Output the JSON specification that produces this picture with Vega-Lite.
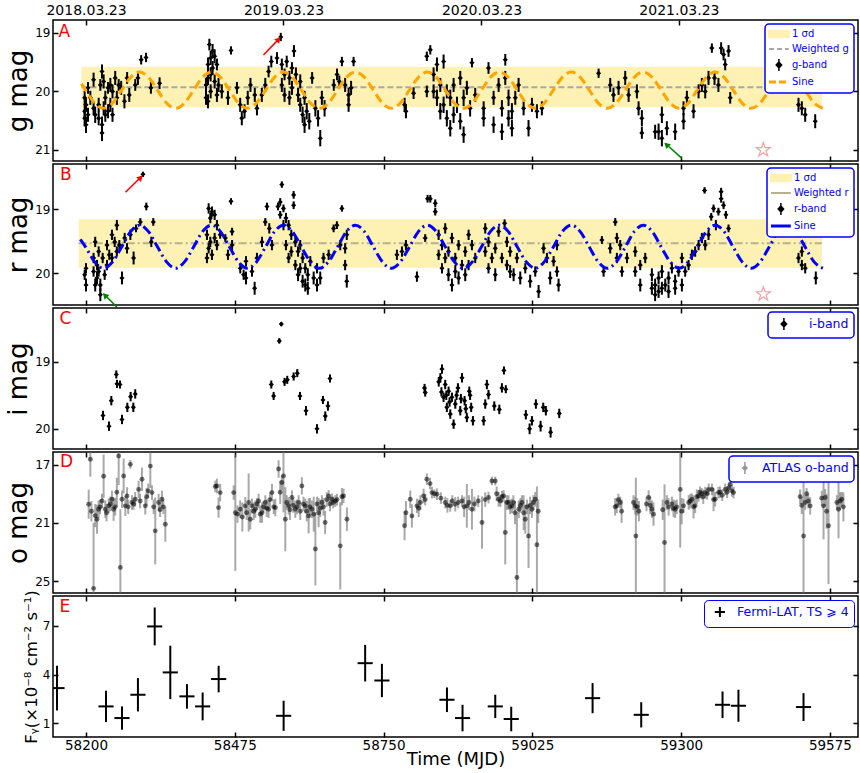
{
"$schema": "https://vega.github.io/schema/vega-lite/v6.json",
"padding": {"top": 2, "left": 4, "right": 1, "bottom": 0},
"spacing": 3,
"bounds": "flush",
"config": {
 "font": "DejaVu Sans",
 "view": {"stroke": "black", "strokeWidth": 1.5},
 "axis": {"domain": false, "grid": false, "tickColor": "black", "tickWidth": 1.5, "tickSize": -5, "labelColor": "black", "titleColor": "black", "titleFontWeight": "normal", "labelFlush": false, "format": "d"}
},
"resolve": {"scale": {"color": "independent", "x": "independent", "y": "independent"}, "legend": {"color": "independent"}},
"datasets": {
"g": [
{"t":58197.5,"m":20.11,"e":0.12},{"t":58197.5,"m":20.34,"e":0.12},{"t":58197.5,"m":20.46,"e":0.14},{"t":58200,"m":20.23,"e":0.12},{"t":58200,"m":20.57,"e":0.14},{"t":58203.7,"m":19.94,"e":0.1},{"t":58203.7,"m":20.4,"e":0.12},{"t":58208,"m":20.11,"e":0.12},{"t":58214,"m":19.8,"e":0.12},{"t":58214,"m":20.29,"e":0.12},{"t":58217,"m":20.4,"e":0.14},{"t":58223.4,"m":20.23,"e":0.12},{"t":58223.4,"m":20.46,"e":0.12},{"t":58226.5,"m":19.89,"e":0.1},{"t":58229.6,"m":19.66,"e":0.12},{"t":58229.6,"m":20.57,"e":0.14},{"t":58229.6,"m":20.71,"e":0.14},{"t":58232.6,"m":19.83,"e":0.12},{"t":58232.6,"m":20.29,"e":0.12},{"t":58235.7,"m":20.11,"e":0.12},{"t":58235.7,"m":20.4,"e":0.12},{"t":58240.7,"m":19.94,"e":0.1},{"t":58240.7,"m":20.34,"e":0.12},{"t":58245,"m":19.89,"e":0.12},{"t":58245,"m":20.23,"e":0.12},{"t":58249,"m":20.0,"e":0.12},{"t":58249,"m":20.4,"e":0.12},{"t":58254,"m":19.77,"e":0.12},{"t":58257,"m":20.11,"e":0.12},{"t":58260.4,"m":19.89,"e":0.1},{"t":58265,"m":19.94,"e":0.12},{"t":58271,"m":20.17,"e":0.12},{"t":58276,"m":19.77,"e":0.1},{"t":58280,"m":20.06,"e":0.12},{"t":58291,"m":19.89,"e":0.1},{"t":58296,"m":19.77,"e":0.12},{"t":58302,"m":19.46,"e":0.08},{"t":58311,"m":19.42,"e":0.08},{"t":58320,"m":19.94,"e":0.1},{"t":58336,"m":19.86,"e":0.1},
{"t":58421.8,"m":19.89,"e":0.12},{"t":58421.8,"m":20.11,"e":0.12},{"t":58425.5,"m":19.54,"e":0.12},{"t":58425.5,"m":19.77,"e":0.12},{"t":58425.5,"m":20.17,"e":0.12},{"t":58428,"m":19.2,"e":0.1},{"t":58430.4,"m":19.43,"e":0.12},{"t":58430.4,"m":19.71,"e":0.12},{"t":58430.4,"m":20.0,"e":0.12},{"t":58434,"m":19.31,"e":0.12},{"t":58434,"m":19.6,"e":0.12},{"t":58437.8,"m":19.4,"e":0.12},{"t":58437.8,"m":19.83,"e":0.12},{"t":58442,"m":19.54,"e":0.1},{"t":58442,"m":20.06,"e":0.12},{"t":58445,"m":19.89,"e":0.12},{"t":58451,"m":20.0,"e":0.12},{"t":58462.4,"m":20.11,"e":0.12},{"t":58468,"m":19.3,"e":0.07},{"t":58479,"m":19.94,"e":0.1},{"t":58485,"m":20.23,"e":0.12},{"t":58488,"m":20.46,"e":0.12},{"t":58493,"m":20.34,"e":0.12},{"t":58499,"m":20.11,"e":0.12},{"t":58504,"m":19.89,"e":0.12},{"t":58512,"m":20.06,"e":0.12},{"t":58516,"m":20.29,"e":0.12},{"t":58525,"m":20.06,"e":0.12},{"t":58531.4,"m":19.89,"e":0.12},{"t":58537.5,"m":19.66,"e":0.1},{"t":58542.5,"m":19.49,"e":0.1},{"t":58553,"m":19.43,"e":0.1},{"t":58560,"m":19.07,"e":0.07},{"t":58562,"m":19.54,"e":0.1},{"t":58562,"m":19.89,"e":0.12},{"t":58567,"m":19.71,"e":0.1},{"t":58567,"m":20.06,"e":0.12},{"t":58571,"m":19.49,"e":0.1},{"t":58576,"m":19.77,"e":0.12},{"t":58576,"m":20.11,"e":0.12},{"t":58580.7,"m":19.6,"e":0.1},{"t":58580.7,"m":19.94,"e":0.12},{"t":58584.4,"m":19.31,"e":0.1},{"t":58588,"m":19.71,"e":0.12},{"t":58592,"m":20.06,"e":0.12},{"t":58596,"m":20.23,"e":0.12},{"t":58596,"m":19.83,"e":0.12},{"t":58600.4,"m":20.4,"e":0.14},{"t":58604,"m":20.11,"e":0.12},{"t":58604,"m":20.57,"e":0.14},{"t":58608,"m":20.34,"e":0.14},{"t":58612.7,"m":20.51,"e":0.14},{"t":58618,"m":19.77,"e":0.1},{"t":58624,"m":20.29,"e":0.14},{"t":58629,"m":20.46,"e":0.14},{"t":58633,"m":20.8,"e":0.14},{"t":58636,"m":20.11,"e":0.12},{"t":58641,"m":20.29,"e":0.14},{"t":58658,"m":19.89,"e":0.1},{"t":58664,"m":19.71,"e":0.1},{"t":58668.2,"m":19.83,"e":0.1},{"t":58673,"m":19.49,"e":0.08},{"t":58679,"m":19.89,"e":0.12},{"t":58685.4,"m":20.06,"e":0.12},{"t":58685.4,"m":20.23,"e":0.12},{"t":58690,"m":19.94,"e":0.12},{"t":58694.6,"m":19.49,"e":0.08},
{"t":58788.9,"m":20.23,"e":0.12},{"t":58791.4,"m":20.34,"e":0.12},{"t":58805.5,"m":20.03,"e":0.1},{"t":58830,"m":19.4,"e":0.08},{"t":58830,"m":20.0,"e":0.1},
{"t":58836.4,"m":19.29,"e":0.08},{"t":58842.5,"m":19.71,"e":0.12},{"t":58842.5,"m":20.0,"e":0.12},{"t":58848.7,"m":19.54,"e":0.12},{"t":58848.7,"m":20.11,"e":0.14},{"t":58854.9,"m":19.89,"e":0.12},{"t":58854.9,"m":20.34,"e":0.14},{"t":58861,"m":19.49,"e":0.12},{"t":58861,"m":20.23,"e":0.14},{"t":58867,"m":20.0,"e":0.12},{"t":58867,"m":20.46,"e":0.14},{"t":58873.3,"m":20.11,"e":0.14},{"t":58873.3,"m":20.63,"e":0.14},{"t":58879.5,"m":19.89,"e":0.12},{"t":58879.5,"m":20.4,"e":0.14},{"t":58885.7,"m":20.23,"e":0.14},{"t":58891.8,"m":19.77,"e":0.12},{"t":58891.8,"m":20.51,"e":0.14},{"t":58898,"m":20.11,"e":0.14},{"t":58898,"m":20.74,"e":0.14},{"t":58904,"m":19.94,"e":0.12},{"t":58910,"m":20.29,"e":0.14},{"t":58913.4,"m":19.51,"e":0.08},{"t":58919.5,"m":20.06,"e":0.12},{"t":58935,"m":20.29,"e":0.12},{"t":58935,"m":20.46,"e":0.14},{"t":58944,"m":19.6,"e":0.1},{"t":58953.4,"m":20.11,"e":0.12},{"t":58953.4,"m":20.57,"e":0.14},{"t":58962.7,"m":19.89,"e":0.12},{"t":58968.8,"m":20.29,"e":0.14},{"t":58968.8,"m":20.69,"e":0.14},{"t":58975,"m":19.46,"e":0.1},{"t":58975,"m":19.77,"e":0.12},{"t":58981,"m":20.11,"e":0.14},{"t":58981,"m":20.46,"e":0.14},{"t":58987.3,"m":20.34,"e":0.14},{"t":58987.3,"m":20.63,"e":0.14},{"t":58993.5,"m":20.11,"e":0.12},{"t":58999.6,"m":19.89,"e":0.12},{"t":59008.9,"m":20.29,"e":0.12},{"t":59018,"m":20.63,"e":0.14},{"t":59024.3,"m":20.23,"e":0.12},{"t":59033.5,"m":20.34,"e":0.12},{"t":59042.7,"m":20.29,"e":0.12},
{"t":59147.5,"m":19.69,"e":0.08},{"t":59169,"m":19.89,"e":0.12},{"t":59175,"m":20.06,"e":0.12},{"t":59184.4,"m":19.94,"e":0.12},{"t":59196.7,"m":19.77,"e":0.12},{"t":59203,"m":20.06,"e":0.12},{"t":59218.3,"m":20.0,"e":0.12},{"t":59221.4,"m":20.29,"e":0.12},{"t":59227.5,"m":20.46,"e":0.14},{"t":59227.5,"m":20.71,"e":0.1},{"t":59252,"m":20.69,"e":0.12},{"t":59258.4,"m":20.69,"e":0.14},{"t":59264.5,"m":20.8,"e":0.14},{"t":59264.5,"m":20.4,"e":0.14},{"t":59273.7,"m":20.63,"e":0.12},{"t":59289,"m":20.69,"e":0.14},{"t":59304.5,"m":20.51,"e":0.14},{"t":59304.5,"m":20.29,"e":0.12},{"t":59310.7,"m":20.11,"e":0.12},{"t":59323,"m":20.34,"e":0.12},{"t":59332.3,"m":20.0,"e":0.12},{"t":59338.4,"m":19.89,"e":0.12},{"t":59344.6,"m":20.0,"e":0.12},{"t":59350.7,"m":19.77,"e":0.12},{"t":59356.9,"m":19.26,"e":0.08},{"t":59361.8,"m":19.77,"e":0.12},{"t":59369,"m":19.89,"e":0.12},{"t":59374,"m":19.26,"e":0.1},{"t":59378.5,"m":19.37,"e":0.1},{"t":59381.5,"m":19.54,"e":0.1},{"t":59387.7,"m":19.31,"e":0.1},{"t":59390.8,"m":20.11,"e":0.1},{"t":59517,"m":20.23,"e":0.12},{"t":59523.2,"m":20.29,"e":0.12},{"t":59529.4,"m":20.4,"e":0.12},{"t":59547.9,"m":20.51,"e":0.12}
],
"r": [
{"t":58197.5,"m":20.02,"e":0.08},{"t":58200,"m":19.92,"e":0.08},{"t":58200,"m":20.18,"e":0.1},{"t":58214,"m":19.76,"e":0.08},{"t":58214,"m":19.97,"e":0.08},{"t":58217,"m":19.51,"e":0.08},{"t":58217,"m":20.18,"e":0.1},{"t":58220.3,"m":19.87,"e":0.08},{"t":58220.3,"m":20.07,"e":0.1},{"t":58223.4,"m":19.66,"e":0.08},{"t":58223.4,"m":19.97,"e":0.08},{"t":58226.5,"m":20.18,"e":0.1},{"t":58226.5,"m":20.33,"e":0.1},{"t":58230.8,"m":19.76,"e":0.08},{"t":58234.5,"m":20.02,"e":0.08},{"t":58238.8,"m":19.56,"e":0.08},{"t":58238.8,"m":19.87,"e":0.08},{"t":58243,"m":19.71,"e":0.08},{"t":58248,"m":19.4,"e":0.08},{"t":58248,"m":19.76,"e":0.08},{"t":58253,"m":19.51,"e":0.08},{"t":58257,"m":19.25,"e":0.08},{"t":58257,"m":19.66,"e":0.08},{"t":58261.6,"m":19.56,"e":0.08},{"t":58266.5,"m":20.07,"e":0.1},{"t":58271.5,"m":19.45,"e":0.08},{"t":58275.8,"m":19.61,"e":0.08},{"t":58282,"m":19.4,"e":0.08},{"t":58288,"m":19.76,"e":0.1},{"t":58292.4,"m":19.3,"e":0.06},{"t":58300.4,"m":19.2,"e":0.06},{"t":58305.3,"m":18.46,"e":0.04},{"t":58311.5,"m":18.96,"e":0.06},{"t":58320.7,"m":19.51,"e":0.08},{"t":58324.4,"m":19.2,"e":0.06},
{"t":58423.6,"m":19.4,"e":0.08},{"t":58423.6,"m":19.76,"e":0.08},{"t":58426.7,"m":18.99,"e":0.08},{"t":58426.7,"m":19.61,"e":0.08},{"t":58429.8,"m":19.14,"e":0.08},{"t":58429.8,"m":19.51,"e":0.08},{"t":58432.8,"m":19.04,"e":0.08},{"t":58432.8,"m":19.71,"e":0.08},{"t":58437.8,"m":19.09,"e":0.08},{"t":58437.8,"m":19.45,"e":0.08},{"t":58442,"m":19.25,"e":0.08},{"t":58442,"m":19.56,"e":0.08},{"t":58448,"m":19.4,"e":0.06},{"t":58457.5,"m":19.45,"e":0.06},{"t":58462.4,"m":19.71,"e":0.08},{"t":58468,"m":18.88,"e":0.05},{"t":58470,"m":19.35,"e":0.06},{"t":58470,"m":19.56,"e":0.08},{"t":58485.2,"m":19.92,"e":0.08},{"t":58491.4,"m":20.02,"e":0.08},{"t":58495.7,"m":19.81,"e":0.08},{"t":58495.7,"m":20.07,"e":0.1},{"t":58506.8,"m":19.97,"e":0.08},{"t":58511.7,"m":20.23,"e":0.1},{"t":58516,"m":19.76,"e":0.08},{"t":58525.3,"m":19.51,"e":0.08},{"t":58531.4,"m":19.2,"e":0.06},{"t":58534.5,"m":18.96,"e":0.06},{"t":58538.8,"m":19.3,"e":0.08},{"t":58543.7,"m":19.56,"e":0.08},{"t":58554.8,"m":18.96,"e":0.06},{"t":58559,"m":18.89,"e":0.06},{"t":58559,"m":19.09,"e":0.06},{"t":58562,"m":18.62,"e":0.05},{"t":58565,"m":18.99,"e":0.06},{"t":58565,"m":19.25,"e":0.08},{"t":58569.6,"m":19.14,"e":0.08},{"t":58569.6,"m":19.56,"e":0.08},{"t":58574.5,"m":19.25,"e":0.08},{"t":58574.5,"m":19.76,"e":0.08},{"t":58579.5,"m":19.4,"e":0.08},{"t":58579.5,"m":19.66,"e":0.08},{"t":58583.8,"m":18.78,"e":0.06},{"t":58583.8,"m":18.94,"e":0.06},{"t":58587,"m":19.51,"e":0.08},{"t":58587,"m":19.87,"e":0.08},{"t":58592,"m":19.66,"e":0.08},{"t":58592,"m":20.02,"e":0.1},{"t":58596,"m":19.56,"e":0.08},{"t":58596,"m":19.92,"e":0.08},{"t":58600.4,"m":19.76,"e":0.08},{"t":58600.4,"m":20.12,"e":0.1},{"t":58605.3,"m":19.92,"e":0.08},{"t":58605.3,"m":20.18,"e":0.1},{"t":58610,"m":20.02,"e":0.1},{"t":58610,"m":20.23,"e":0.1},{"t":58614.6,"m":19.81,"e":0.08},{"t":58620.8,"m":20.07,"e":0.1},{"t":58627,"m":19.92,"e":0.08},{"t":58627,"m":20.18,"e":0.1},{"t":58633,"m":20.07,"e":0.1},{"t":58639,"m":19.76,"e":0.08},{"t":58648.5,"m":19.71,"e":0.08},{"t":58657.7,"m":19.3,"e":0.06},{"t":58663.8,"m":19.25,"e":0.06},{"t":58670,"m":19.56,"e":0.08},{"t":58673,"m":18.99,"e":0.05},{"t":58679,"m":19.61,"e":0.08},{"t":58679,"m":19.87,"e":0.08},{"t":58682,"m":19.4,"e":0.08},{"t":58682,"m":20.12,"e":0.1},
{"t":58774.7,"m":19.71,"e":0.08},{"t":58784,"m":19.66,"e":0.08},{"t":58791.4,"m":19.56,"e":0.08},{"t":58811.7,"m":20.05,"e":0.08},{"t":58827,"m":19.45,"e":0.06},{"t":58831.4,"m":18.84,"e":0.06},
{"t":58836.4,"m":18.84,"e":0.06},{"t":58845.6,"m":18.91,"e":0.06},{"t":58845.6,"m":19.04,"e":0.06},{"t":58851.8,"m":19.4,"e":0.08},{"t":58851.8,"m":19.71,"e":0.08},{"t":58858,"m":19.56,"e":0.08},{"t":58858,"m":19.92,"e":0.08},{"t":58864,"m":19.3,"e":0.08},{"t":58864,"m":19.76,"e":0.08},{"t":58870,"m":19.66,"e":0.08},{"t":58870,"m":20.02,"e":0.1},{"t":58876.4,"m":19.45,"e":0.08},{"t":58876.4,"m":20.18,"e":0.1},{"t":58882.6,"m":19.76,"e":0.08},{"t":58882.6,"m":19.97,"e":0.1},{"t":58888.7,"m":19.56,"e":0.08},{"t":58888.7,"m":20.07,"e":0.1},{"t":58895,"m":19.87,"e":0.08},{"t":58901,"m":19.66,"e":0.08},{"t":58901,"m":20.02,"e":0.1},{"t":58907.2,"m":19.4,"e":0.08},{"t":58907.2,"m":19.87,"e":0.08},{"t":58913.4,"m":19.56,"e":0.08},{"t":58919.5,"m":19.76,"e":0.08},{"t":58938,"m":19.3,"e":0.08},{"t":58938,"m":19.66,"e":0.08},{"t":58944,"m":19.51,"e":0.08},{"t":58944,"m":19.92,"e":0.08},{"t":58950.3,"m":19.76,"e":0.08},{"t":58956.5,"m":19.61,"e":0.08},{"t":58956.5,"m":20.02,"e":0.1},{"t":58962.7,"m":19.35,"e":0.08},{"t":58968.8,"m":19.76,"e":0.08},{"t":58973.8,"m":19.22,"e":0.06},{"t":58978,"m":19.51,"e":0.08},{"t":58978,"m":19.87,"e":0.08},{"t":58984,"m":19.66,"e":0.08},{"t":58984,"m":19.97,"e":0.1},{"t":58990.4,"m":20.02,"e":0.1},{"t":58996.5,"m":19.76,"e":0.08},{"t":59002.7,"m":20.07,"e":0.1},{"t":59012,"m":19.92,"e":0.08},{"t":59021,"m":20.12,"e":0.1},{"t":59030.4,"m":19.97,"e":0.08},{"t":59036.6,"m":20.28,"e":0.1},{"t":59045.8,"m":19.61,"e":0.08},{"t":59052,"m":19.76,"e":0.08},{"t":59058,"m":20.07,"e":0.1},{"t":59064.3,"m":19.81,"e":0.08},{"t":59070.5,"m":19.56,"e":0.08},{"t":59070.5,"m":19.97,"e":0.08},{"t":59073.5,"m":20.18,"e":0.1},
{"t":59153.6,"m":19.48,"e":0.06},{"t":59156.7,"m":19.97,"e":0.08},{"t":59169,"m":19.61,"e":0.08},{"t":59178.3,"m":19.2,"e":0.06},{"t":59181.3,"m":19.45,"e":0.08},{"t":59181.3,"m":19.76,"e":0.08},{"t":59187.5,"m":19.56,"e":0.08},{"t":59190.6,"m":19.97,"e":0.08},{"t":59200,"m":19.76,"e":0.08},{"t":59215.2,"m":19.66,"e":0.08},{"t":59215.2,"m":19.97,"e":0.08},{"t":59224.5,"m":19.87,"e":0.08},{"t":59224.5,"m":20.18,"e":0.1},{"t":59233.7,"m":19.76,"e":0.08},{"t":59246,"m":20.02,"e":0.1},{"t":59246,"m":20.23,"e":0.1},{"t":59252,"m":20.18,"e":0.1},{"t":59252,"m":20.33,"e":0.1},{"t":59258.4,"m":20.07,"e":0.1},{"t":59258.4,"m":20.28,"e":0.1},{"t":59264.5,"m":19.97,"e":0.1},{"t":59264.5,"m":20.23,"e":0.1},{"t":59270.7,"m":20.18,"e":0.1},{"t":59276.8,"m":20.07,"e":0.1},{"t":59276.8,"m":20.28,"e":0.1},{"t":59283,"m":19.92,"e":0.08},{"t":59289,"m":20.12,"e":0.1},{"t":59289,"m":20.23,"e":0.1},{"t":59295.3,"m":19.97,"e":0.08},{"t":59301.5,"m":19.76,"e":0.08},{"t":59301.5,"m":20.18,"e":0.1},{"t":59307.6,"m":19.97,"e":0.08},{"t":59313.8,"m":19.87,"e":0.08},{"t":59320,"m":19.71,"e":0.08},{"t":59326,"m":19.66,"e":0.08},{"t":59332.3,"m":19.56,"e":0.08},{"t":59338.4,"m":19.45,"e":0.08},{"t":59343.4,"m":18.71,"e":0.05},{"t":59344.6,"m":19.56,"e":0.08},{"t":59350.7,"m":19.4,"e":0.08},{"t":59355.7,"m":19.12,"e":0.06},{"t":59360,"m":18.99,"e":0.06},{"t":59364.3,"m":19.25,"e":0.08},{"t":59369,"m":19.04,"e":0.06},{"t":59374,"m":18.73,"e":0.06},{"t":59374,"m":18.84,"e":0.06},{"t":59378.5,"m":18.94,"e":0.06},{"t":59382.8,"m":19.09,"e":0.06},{"t":59387.7,"m":19.3,"e":0.06},{"t":59517,"m":19.76,"e":0.08},{"t":59523.2,"m":19.66,"e":0.08},{"t":59523.2,"m":19.87,"e":0.08},{"t":59529.4,"m":19.92,"e":0.08},{"t":59549,"m":20.07,"e":0.1}
],
"i": [
{"t":58231.4,"m":19.8,"e":0.07},{"t":58242.5,"m":19.96,"e":0.07},{"t":58246.8,"m":19.58,"e":0.07},{"t":58256,"m":19.19,"e":0.06},{"t":58257.3,"m":19.33,"e":0.06},{"t":58262.8,"m":19.34,"e":0.06},{"t":58266.5,"m":19.86,"e":0.07},{"t":58276.4,"m":19.68,"e":0.07},{"t":58282.5,"m":19.52,"e":0.07},{"t":58287.5,"m":19.68,"e":0.07},{"t":58291,"m":19.48,"e":0.07},
{"t":58542.5,"m":19.34,"e":0.06},{"t":58546.8,"m":19.51,"e":0.06},{"t":58557.3,"m":18.69,"e":0.04},{"t":58561,"m":18.44,"e":0.03},{"t":58567,"m":19.3,"e":0.06},{"t":58572,"m":19.27,"e":0.06},{"t":58583.8,"m":19.22,"e":0.06},{"t":58590.5,"m":19.17,"e":0.06},{"t":58595.5,"m":19.51,"e":0.06},{"t":58606.6,"m":19.73,"e":0.07},{"t":58627,"m":20.0,"e":0.07},{"t":58638,"m":19.57,"e":0.06},{"t":58642.3,"m":19.81,"e":0.07},{"t":58647.2,"m":19.66,"e":0.07},{"t":58651,"m":19.25,"e":0.06},{"t":58825.8,"m":19.39,"e":0.06},{"t":58827,"m":19.46,"e":0.06},
{"t":58852,"m":19.3,"e":0.07},{"t":58855,"m":19.24,"e":0.07},{"t":58857,"m":19.45,"e":0.07},{"t":58858,"m":19.11,"e":0.07},{"t":58861,"m":19.53,"e":0.07},{"t":58864,"m":19.34,"e":0.07},{"t":58866,"m":19.5,"e":0.07},{"t":58867,"m":19.68,"e":0.07},{"t":58870.3,"m":19.44,"e":0.07},{"t":58872,"m":19.6,"e":0.07},{"t":58873.3,"m":19.78,"e":0.07},{"t":58876.4,"m":19.53,"e":0.07},{"t":58879.5,"m":19.93,"e":0.07},{"t":58882.6,"m":19.63,"e":0.07},{"t":58885,"m":19.5,"e":0.07},{"t":58887.5,"m":19.39,"e":0.07},{"t":58891.8,"m":19.73,"e":0.07},{"t":58893,"m":19.55,"e":0.07},{"t":58895,"m":19.24,"e":0.07},{"t":58899.8,"m":19.58,"e":0.07},{"t":58902,"m":19.7,"e":0.07},{"t":58904,"m":19.83,"e":0.07},{"t":58908.5,"m":19.44,"e":0.07},{"t":58910,"m":19.5,"e":0.07},{"t":58912,"m":19.68,"e":0.07},{"t":58915.2,"m":19.88,"e":0.07},{"t":58935,"m":19.88,"e":0.07},{"t":58938,"m":19.63,"e":0.07},{"t":58941,"m":19.34,"e":0.07},{"t":58944,"m":19.49,"e":0.07},{"t":58954.7,"m":19.66,"e":0.07},{"t":58964,"m":19.71,"e":0.07},{"t":58968.8,"m":19.39,"e":0.07},{"t":58972.5,"m":19.13,"e":0.06},{"t":58976,"m":19.41,"e":0.06},{"t":59013,"m":19.79,"e":0.07},{"t":59020,"m":20.0,"e":0.08},{"t":59024.3,"m":19.88,"e":0.07},{"t":59031.6,"m":19.63,"e":0.07},{"t":59040.3,"m":19.96,"e":0.08},{"t":59045.2,"m":19.68,"e":0.07},{"t":59050,"m":19.73,"e":0.07},{"t":59058.8,"m":20.05,"e":0.08},{"t":59074.8,"m":19.77,"e":0.07}
],
"o": [
{"t":58205,"m":19.72,"e":1.0},{"t":58208,"m":16.63,"e":1.2},{"t":58210,"m":20.2,"e":0.7},{"t":58214,"m":25.5,"e":4.5},{"t":58217,"m":20.5,"e":0.8},{"t":58220.3,"m":20.75,"e":1.0},{"t":58223.4,"m":20.06,"e":0.6},{"t":58226,"m":19.9,"e":0.5},{"t":58229.6,"m":19.5,"e":0.5},{"t":58232.6,"m":17.8,"e":1.5},{"t":58235.7,"m":20.06,"e":0.6},{"t":58238,"m":20.3,"e":0.6},{"t":58242,"m":19.83,"e":0.5},{"t":58245,"m":19.7,"e":0.5},{"t":58248,"m":19.38,"e":0.6},{"t":58251,"m":20.06,"e":0.8},{"t":58254,"m":19.9,"e":0.6},{"t":58257,"m":18.9,"e":1.0},{"t":58260.4,"m":16.4,"e":2.0},{"t":58263.5,"m":24.06,"e":4.0},{"t":58266.5,"m":19.38,"e":0.6},{"t":58269.6,"m":17.78,"e":1.2},{"t":58272.7,"m":19.83,"e":0.7},{"t":58275.8,"m":19.15,"e":0.6},{"t":58278,"m":19.9,"e":0.5},{"t":58282,"m":16.98,"e":0.3},{"t":58285,"m":19.6,"e":0.5},{"t":58288,"m":19.7,"e":0.4},{"t":58291,"m":19.38,"e":0.5},{"t":58297.3,"m":18.7,"e":0.6},{"t":58300,"m":19.5,"e":0.5},{"t":58303.5,"m":18.0,"e":0.8},{"t":58309.6,"m":19.83,"e":0.6},{"t":58312,"m":19.2,"e":0.6},{"t":58315,"m":18.8,"e":0.5},{"t":58318.9,"m":17.1,"e":1.5},{"t":58322,"m":18.92,"e":0.5},{"t":58325,"m":19.9,"e":0.5},{"t":58328,"m":21.55,"e":2.3},{"t":58334.3,"m":19.6,"e":0.6},{"t":58337,"m":20.1,"e":0.5},{"t":58340.4,"m":19.38,"e":0.6},{"t":58343,"m":19.9,"e":0.5},{"t":58346.6,"m":21.1,"e":1.2},
{"t":58439,"m":18.5,"e":0.4},{"t":58442,"m":18.46,"e":0.5},{"t":58445,"m":19.95,"e":0.7},{"t":58448,"m":18.92,"e":0.6},
{"t":58473,"m":18.92,"e":0.5},{"t":58476,"m":20.3,"e":4.0},{"t":58480,"m":20.4,"e":0.6},{"t":58485,"m":20.06,"e":0.6},{"t":58489,"m":20.6,"e":1.0},{"t":58494.5,"m":19.83,"e":0.6},{"t":58497,"m":20.3,"e":0.5},{"t":58500.6,"m":19.6,"e":2.0},{"t":58503.7,"m":20.75,"e":0.7},{"t":58506.8,"m":19.83,"e":0.5},{"t":58510,"m":20.2,"e":0.6},{"t":58513,"m":20.06,"e":0.6},{"t":58516,"m":19.7,"e":0.4},{"t":58519,"m":19.5,"e":0.5},{"t":58522,"m":20.4,"e":0.6},{"t":58525.3,"m":20.3,"e":0.7},{"t":58528,"m":19.9,"e":0.4},{"t":58531.4,"m":19.6,"e":0.5},{"t":58534,"m":20.0,"e":0.6},{"t":58537.5,"m":20.06,"e":0.6},{"t":58540,"m":19.4,"e":0.5},{"t":58543.7,"m":18.92,"e":0.6},{"t":58547,"m":19.9,"e":0.5},{"t":58550,"m":19.95,"e":0.6},{"t":58556,"m":17.3,"e":0.6},{"t":58559,"m":18.9,"e":0.8},{"t":58562,"m":18.23,"e":0.5},{"t":58565,"m":17.78,"e":2.5},{"t":58568.4,"m":20.75,"e":2.2},{"t":58571,"m":19.6,"e":0.5},{"t":58574.5,"m":19.83,"e":0.6},{"t":58577,"m":20.1,"e":0.7},{"t":58580.7,"m":19.26,"e":0.5},{"t":58583,"m":19.8,"e":0.5},{"t":58586.8,"m":20.06,"e":0.6},{"t":58590,"m":19.9,"e":0.5},{"t":58593,"m":19.6,"e":0.5},{"t":58596,"m":20.2,"e":0.6},{"t":58599,"m":18.46,"e":0.6},{"t":58602,"m":19.7,"e":0.5},{"t":58605.3,"m":19.83,"e":0.5},{"t":58608,"m":20.2,"e":0.7},{"t":58611.5,"m":20.52,"e":1.2},{"t":58614,"m":19.9,"e":0.6},{"t":58617.6,"m":20.06,"e":0.6},{"t":58621,"m":20.4,"e":1.2},{"t":58624,"m":22.8,"e":2.5},{"t":58627,"m":19.7,"e":0.5},{"t":58630,"m":20.3,"e":1.0},{"t":58633,"m":20.0,"e":0.6},{"t":58636,"m":19.6,"e":0.5},{"t":58639,"m":19.9,"e":0.6},{"t":58642,"m":20.98,"e":0.8},{"t":58645,"m":19.4,"e":0.5},{"t":58648.5,"m":19.15,"e":0.4},{"t":58651,"m":19.7,"e":0.5},{"t":58654.6,"m":19.38,"e":0.4},{"t":58657,"m":19.6,"e":0.4},{"t":58660.8,"m":19.5,"e":0.4},{"t":58664,"m":19.4,"e":0.4},{"t":58670,"m":22.58,"e":3.0},{"t":58673,"m":19.2,"e":0.6},{"t":58676,"m":19.15,"e":0.5},{"t":58682.3,"m":20.75,"e":0.8},
{"t":58788.9,"m":21.2,"e":1.0},{"t":58791.4,"m":20.3,"e":0.8},{"t":58799.4,"m":19.38,"e":0.6},{"t":58802.4,"m":20.52,"e":0.8},{"t":58811.7,"m":19.83,"e":0.5},{"t":58815,"m":20.0,"e":0.6},{"t":58818,"m":19.6,"e":0.5},{"t":58824,"m":19.15,"e":0.5},{"t":58827,"m":19.4,"e":0.4},{"t":58830,"m":18.0,"e":0.4},
{"t":58836,"m":18.3,"e":0.4},{"t":58839.5,"m":18.92,"e":0.4},{"t":58844,"m":19.0,"e":0.3},{"t":58848.7,"m":19.03,"e":0.4},{"t":58856,"m":19.3,"e":0.4},{"t":58864,"m":19.6,"e":0.4},{"t":58868,"m":19.8,"e":0.5},{"t":58873.3,"m":19.83,"e":0.4},{"t":58877,"m":19.5,"e":0.4},{"t":58882.6,"m":19.72,"e":0.5},{"t":58888,"m":19.6,"e":0.4},{"t":58895,"m":19.5,"e":0.4},{"t":58899,"m":19.9,"e":0.7},{"t":58904,"m":19.83,"e":1.5},{"t":58908,"m":19.6,"e":0.5},{"t":58913.4,"m":20.06,"e":1.4},{"t":58918,"m":19.7,"e":0.5},{"t":58925,"m":19.5,"e":0.4},{"t":58932,"m":20.98,"e":1.8},{"t":58938,"m":19.4,"e":0.5},{"t":58944,"m":19.26,"e":0.4},{"t":58950.3,"m":18.12,"e":0.3},{"t":58956.5,"m":18.12,"e":0.3},{"t":58959,"m":19.0,"e":0.5},{"t":58962.7,"m":19.38,"e":0.5},{"t":58966,"m":19.5,"e":0.4},{"t":58969,"m":19.2,"e":0.4},{"t":58972,"m":19.15,"e":0.4},{"t":58975,"m":21.66,"e":2.2},{"t":58978,"m":19.6,"e":0.5},{"t":58981,"m":19.6,"e":0.5},{"t":58984,"m":19.9,"e":0.5},{"t":58987.3,"m":19.83,"e":0.5},{"t":58990,"m":19.6,"e":0.5},{"t":58993,"m":20.3,"e":0.8},{"t":58996.5,"m":24.75,"e":4.5},{"t":59000,"m":20.06,"e":0.6},{"t":59003,"m":19.8,"e":0.5},{"t":59005.8,"m":19.6,"e":0.5},{"t":59009,"m":20.3,"e":1.2},{"t":59012,"m":20.75,"e":1.0},{"t":59015,"m":19.9,"e":0.5},{"t":59018,"m":21.9,"e":2.2},{"t":59021,"m":19.8,"e":0.6},{"t":59024.3,"m":20.06,"e":0.6},{"t":59027,"m":19.6,"e":0.5},{"t":59030.4,"m":19.38,"e":0.5},{"t":59033.5,"m":22.5,"e":4.0},{"t":59036,"m":20.2,"e":0.8},
{"t":59178,"m":19.9,"e":0.6},{"t":59181.3,"m":19.83,"e":0.5},{"t":59184,"m":19.4,"e":0.4},{"t":59187.5,"m":19.6,"e":0.4},{"t":59190,"m":20.2,"e":0.8},{"t":59212,"m":19.6,"e":0.5},{"t":59215.2,"m":19.83,"e":0.6},{"t":59216.4,"m":21.9,"e":4.0},{"t":59219,"m":19.9,"e":0.6},{"t":59222,"m":20.2,"e":0.7},{"t":59236,"m":19.7,"e":0.5},{"t":59240,"m":19.26,"e":0.5},{"t":59243,"m":19.8,"e":0.6},{"t":59246,"m":20.06,"e":0.6},{"t":59249,"m":20.4,"e":0.8},{"t":59266,"m":20.1,"e":0.7},{"t":59269.4,"m":22.35,"e":4.0},{"t":59273.7,"m":19.6,"e":0.5},{"t":59277,"m":19.9,"e":0.6},{"t":59283,"m":19.7,"e":0.5},{"t":59286,"m":20.0,"e":0.6},{"t":59289,"m":20.06,"e":0.6},{"t":59292,"m":19.9,"e":0.5},{"t":59298.4,"m":18.7,"e":4.0},{"t":59301,"m":20.2,"e":0.9},{"t":59304.5,"m":19.83,"e":0.5},{"t":59314,"m":19.6,"e":0.5},{"t":59317,"m":19.5,"e":0.5},{"t":59320,"m":19.38,"e":0.4},{"t":59323,"m":19.9,"e":0.8},{"t":59326,"m":19.83,"e":0.5},{"t":59329,"m":19.2,"e":0.5},{"t":59332.3,"m":19.15,"e":0.4},{"t":59335,"m":18.9,"e":0.4},{"t":59338,"m":19.0,"e":0.4},{"t":59341,"m":19.2,"e":0.5},{"t":59344.6,"m":18.92,"e":0.4},{"t":59348,"m":19.0,"e":0.4},{"t":59351,"m":18.7,"e":0.4},{"t":59357,"m":18.7,"e":0.4},{"t":59360,"m":19.4,"e":0.8},{"t":59363,"m":19.38,"e":0.5},{"t":59369,"m":18.92,"e":0.4},{"t":59372,"m":18.9,"e":0.4},{"t":59376,"m":19.1,"e":0.4},{"t":59381.5,"m":18.7,"e":0.4},{"t":59385,"m":18.9,"e":0.4},{"t":59388,"m":18.6,"e":0.3},{"t":59390.8,"m":18.35,"e":0.3},{"t":59394,"m":18.8,"e":0.4},{"t":59397,"m":18.92,"e":0.4},
{"t":59520,"m":19.2,"e":0.5},{"t":59523,"m":19.8,"e":0.6},{"t":59526.3,"m":21.9,"e":4.0},{"t":59529.4,"m":19.6,"e":0.5},{"t":59532,"m":19.0,"e":0.4},{"t":59535,"m":19.5,"e":0.5},{"t":59538.6,"m":19.83,"e":0.6},{"t":59560,"m":19.3,"e":0.5},{"t":59563.3,"m":19.83,"e":2.3},{"t":59566.3,"m":19.26,"e":0.6},{"t":59569,"m":20.2,"e":1.2},{"t":59572.5,"m":21.2,"e":4.0},{"t":59588,"m":19.6,"e":0.5},{"t":59591,"m":20.06,"e":2.0},{"t":59594,"m":19.5,"e":0.6},{"t":59597,"m":19.38,"e":0.5},{"t":59600,"m":19.9,"e":1.0}
],
"f": [
{"t":58146.4,"f":3.16,"fe":1.38,"te":14},{"t":58237,"f":2.03,"fe":0.97,"te":14},{"t":58266.5,"f":1.31,"fe":0.72,"te":14},{"t":58296,"f":2.75,"fe":1.03,"te":14},{"t":58327,"f":6.97,"fe":1.17,"te":14},{"t":58355.8,"f":4.13,"fe":1.65,"te":14},{"t":58386.6,"f":2.65,"fe":0.76,"te":14},{"t":58415.6,"f":2.03,"fe":0.86,"te":14},{"t":58445.2,"f":3.72,"fe":0.82,"te":14},{"t":58565.3,"f":1.45,"fe":0.93,"te":14},{"t":58716,"f":4.7,"fe":1.13,"te":14},{"t":58747,"f":3.63,"fe":1.03,"te":14},{"t":58867.2,"f":2.44,"fe":0.76,"te":14},{"t":58896,"f":1.31,"fe":0.82,"te":14},{"t":58956.5,"f":2.03,"fe":0.72,"te":14},{"t":58986,"f":1.25,"fe":0.76,"te":14},{"t":59136.4,"f":2.54,"fe":0.93,"te":14},{"t":59226.3,"f":1.51,"fe":0.78,"te":14},{"t":59376.6,"f":2.13,"fe":0.82,"te":14},{"t":59406,"f":2.07,"fe":0.99,"te":14},{"t":59526.3,"f":1.99,"fe":0.86,"te":14}
],
"gs": [
{"t":58191.5,"m":19.87},{"t":58199.3,"m":19.98},{"t":58215.9,"m":20.2},{"t":58232.5,"m":20.29},{"t":58249.1,"m":20.2},{"t":58265.8,"m":19.98},{"t":58282.4,"m":19.76},{"t":58299,"m":19.67},{"t":58315.6,"m":19.76},{"t":58332.3,"m":19.98},{"t":58348.9,"m":20.2},{"t":58365.5,"m":20.29},{"t":58382.1,"m":20.2},{"t":58398.8,"m":19.98},{"t":58415.4,"m":19.76},{"t":58432,"m":19.67},{"t":58448.6,"m":19.76},{"t":58465.3,"m":19.98},{"t":58481.9,"m":20.2},{"t":58498.5,"m":20.29},{"t":58515.1,"m":20.2},{"t":58531.8,"m":19.98},{"t":58548.4,"m":19.76},{"t":58565,"m":19.67},{"t":58581.6,"m":19.76},{"t":58598.3,"m":19.98},{"t":58614.9,"m":20.2},{"t":58631.5,"m":20.29},{"t":58648.1,"m":20.2},{"t":58664.8,"m":19.98},{"t":58681.4,"m":19.76},{"t":58698,"m":19.67},{"t":58714.6,"m":19.76},{"t":58731.3,"m":19.98},{"t":58747.9,"m":20.2},{"t":58764.5,"m":20.29},{"t":58781.1,"m":20.2},{"t":58797.8,"m":19.98},{"t":58814.4,"m":19.76},{"t":58831,"m":19.67},{"t":58847.6,"m":19.76},{"t":58864.3,"m":19.98},{"t":58880.9,"m":20.2},{"t":58897.5,"m":20.29},{"t":58914.1,"m":20.2},{"t":58930.8,"m":19.98},{"t":58947.4,"m":19.76},{"t":58964,"m":19.67},{"t":58980.6,"m":19.76},{"t":58997.3,"m":19.98},{"t":59013.9,"m":20.2},{"t":59030.5,"m":20.29},{"t":59047.1,"m":20.2},{"t":59063.8,"m":19.98},{"t":59080.4,"m":19.76},{"t":59097,"m":19.67},{"t":59113.6,"m":19.76},{"t":59130.3,"m":19.98},{"t":59146.9,"m":20.2},{"t":59163.5,"m":20.29},{"t":59180.1,"m":20.2},{"t":59196.8,"m":19.98},{"t":59213.4,"m":19.76},{"t":59230,"m":19.67},{"t":59246.6,"m":19.76},{"t":59263.3,"m":19.98},{"t":59279.9,"m":20.2},{"t":59296.5,"m":20.29},{"t":59313.1,"m":20.2},{"t":59329.8,"m":19.98},{"t":59346.4,"m":19.76},{"t":59363,"m":19.67},{"t":59379.6,"m":19.76},{"t":59396.3,"m":19.98},{"t":59412.9,"m":20.2},{"t":59429.5,"m":20.29},{"t":59446.1,"m":20.2},{"t":59462.8,"m":19.98},{"t":59479.4,"m":19.76},{"t":59496,"m":19.67},{"t":59512.6,"m":19.76},{"t":59529.3,"m":19.98},{"t":59545.9,"m":20.2},{"t":59562.5,"m":20.29}
],
"rs": [
{"t":58189.5,"m":19.47},{"t":58199.3,"m":19.59},{"t":58215.9,"m":19.82},{"t":58232.5,"m":19.92},{"t":58249.1,"m":19.82},{"t":58265.8,"m":19.59},{"t":58282.4,"m":19.35},{"t":58299,"m":19.25},{"t":58315.6,"m":19.35},{"t":58332.3,"m":19.59},{"t":58348.9,"m":19.82},{"t":58365.5,"m":19.92},{"t":58382.1,"m":19.82},{"t":58398.8,"m":19.59},{"t":58415.4,"m":19.35},{"t":58432,"m":19.25},{"t":58448.6,"m":19.35},{"t":58465.3,"m":19.59},{"t":58481.9,"m":19.82},{"t":58498.5,"m":19.92},{"t":58515.1,"m":19.82},{"t":58531.8,"m":19.59},{"t":58548.4,"m":19.35},{"t":58565,"m":19.25},{"t":58581.6,"m":19.35},{"t":58598.3,"m":19.59},{"t":58614.9,"m":19.82},{"t":58631.5,"m":19.92},{"t":58648.1,"m":19.82},{"t":58664.8,"m":19.59},{"t":58681.4,"m":19.35},{"t":58698,"m":19.25},{"t":58714.6,"m":19.35},{"t":58731.3,"m":19.59},{"t":58747.9,"m":19.82},{"t":58764.5,"m":19.92},{"t":58781.1,"m":19.82},{"t":58797.8,"m":19.59},{"t":58814.4,"m":19.35},{"t":58831,"m":19.25},{"t":58847.6,"m":19.35},{"t":58864.3,"m":19.59},{"t":58880.9,"m":19.82},{"t":58897.5,"m":19.92},{"t":58914.1,"m":19.82},{"t":58930.8,"m":19.59},{"t":58947.4,"m":19.35},{"t":58964,"m":19.25},{"t":58980.6,"m":19.35},{"t":58997.3,"m":19.59},{"t":59013.9,"m":19.82},{"t":59030.5,"m":19.92},{"t":59047.1,"m":19.82},{"t":59063.8,"m":19.59},{"t":59080.4,"m":19.35},{"t":59097,"m":19.25},{"t":59113.6,"m":19.35},{"t":59130.3,"m":19.59},{"t":59146.9,"m":19.82},{"t":59163.5,"m":19.92},{"t":59180.1,"m":19.82},{"t":59196.8,"m":19.59},{"t":59213.4,"m":19.35},{"t":59230,"m":19.25},{"t":59246.6,"m":19.35},{"t":59263.3,"m":19.59},{"t":59279.9,"m":19.82},{"t":59296.5,"m":19.92},{"t":59313.1,"m":19.82},{"t":59329.8,"m":19.59},{"t":59346.4,"m":19.35},{"t":59363,"m":19.25},{"t":59379.6,"m":19.35},{"t":59396.3,"m":19.59},{"t":59412.9,"m":19.82},{"t":59429.5,"m":19.92},{"t":59446.1,"m":19.82},{"t":59462.8,"m":19.59},{"t":59479.4,"m":19.35},{"t":59496,"m":19.25},{"t":59512.6,"m":19.35},{"t":59529.3,"m":19.59},{"t":59545.9,"m":19.82},{"t":59562.5,"m":19.92}
]
},
"vconcat": [
{
 "width": 805, "height": 141,
 "resolve": {"axis": {"x": "independent", "y": "independent"}},
 "layer": [
  {"data": {"values": [{"a": 58191.5, "b": 59560, "lo": 19.58, "hi": 20.27}]},
   "mark": {"type": "rect"},
   "encoding": {
    "x": {"field": "a", "type": "quantitative", "scale": {"domain": [58139, 59627], "nice": false, "zero": false}, "axis": null},
    "x2": {"field": "b"},
    "y": {"field": "lo", "type": "quantitative", "scale": {"domain": [18.78, 21.19], "reverse": true, "nice": false, "zero": false}, "axis": null},
    "y2": {"field": "hi"},
    "color": {"datum": "1 σd", "type": "nominal", "scale": {"domain": ["1 σd", "Weighted g", "g-band", "Sine"], "range": ["#fdf1b3", "#a8a8a8", "black", "orange"]}}}},
  {"data": {"values": [{"a": 58191.5, "b": 59560, "m": 19.93}]},
   "mark": {"type": "rule", "strokeDash": [6, 3], "strokeWidth": 2},
   "encoding": {
    "x": {"field": "a", "type": "quantitative", "scale": {"domain": [58139, 59627], "nice": false, "zero": false}, "axis": null},
    "x2": {"field": "b"},
    "y": {"field": "m", "type": "quantitative", "scale": {"domain": [18.78, 21.19], "reverse": true, "nice": false, "zero": false}, "axis": null},
    "color": {"datum": "Weighted g", "type": "nominal", "scale": {"domain": ["1 σd", "Weighted g", "g-band", "Sine"], "range": ["#fdf1b3", "#a8a8a8", "black", "orange"]}}}},
  {"data": {"name": "g"},
   "mark": {"type": "errorbar", "color": "black", "thickness": 2, "clip": true},
   "encoding": {
    "x": {"field": "t", "type": "quantitative", "scale": {"domain": [58139, 59627], "nice": false, "zero": false}, "axis": null},
    "y": {"field": "m", "type": "quantitative", "scale": {"domain": [18.78, 21.19], "reverse": true, "nice": false, "zero": false}, "axis": null},
    "yError": {"field": "e"}}},
  {"data": {"name": "g"},
   "mark": {"type": "point", "shape": "diamond", "filled": true, "size": 26, "opacity": 1, "clip": true},
   "encoding": {
    "x": {"field": "t", "type": "quantitative", "scale": {"domain": [58139, 59627], "nice": false, "zero": false}, "axis": {"orient": "bottom", "values": [58200, 58475, 58750, 59025, 59300, 59575], "labels": false, "title": null}},
    "y": {"field": "m", "type": "quantitative", "scale": {"domain": [18.78, 21.19], "reverse": true, "nice": false, "zero": false}, "axis": {"orient": "left", "values": [19, 20, 21], "labelFontSize": 12, "labelPadding": 8, "title": "g mag", "titleFontSize": 26, "titlePadding": 3}},
    "color": {"datum": "g-band", "type": "nominal", "scale": {"domain": ["1 σd", "Weighted g", "g-band", "Sine"], "range": ["#fdf1b3", "#a8a8a8", "black", "orange"]},
     "legend": {"orient": "top-right", "title": null, "offset": 4, "padding": 5, "rowPadding": 2, "symbolSize": 144, "labelFontSize": 10, "labelColor": "blue", "labelOffset": 12, "strokeColor": "blue", "cornerRadius": 4, "fillColor": "white", "symbolOpacity": 1,
      "encode": {"legend": {"update": {"strokeWidth": {"value": 1.5}}},
       "symbols": {"update": {
        "shape": {"signal": "datum.value === '1 σd' ? 'M-1,-0.55H2.3V0.55H-1Z' : datum.value === 'g-band' ? 'M0.65,-1V1M0.2,0L0.65,-0.5L1.1,0L0.65,0.5Z' : 'M-1,0H2.3'"},
        "fill": {"signal": "datum.value === '1 σd' ? '#fdf1b3' : datum.value === 'g-band' ? 'black' : 'transparent'"},
        "stroke": {"signal": "datum.value === 'Weighted g' ? '#b0b0b0' : datum.value === 'g-band' ? 'black' : datum.value === 'Sine' ? 'orange' : 'transparent'"},
        "strokeWidth": {"signal": "datum.value === 'Sine' ? 3 : datum.value === 'g-band' ? 1.5 : 2"},
        "strokeDash": {"signal": "datum.value === 'Weighted g' ? [5, 3] : datum.value === 'Sine' ? [7, 3] : [1, 0]"},
        "size": {"value": 144}, "opacity": {"value": 1}}}}}}}},
  {"data": {"name": "gs"},
   "mark": {"type": "line", "strokeDash": [9, 5], "strokeWidth": 3, "interpolate": "monotone"},
   "encoding": {
    "x": {"field": "t", "type": "quantitative", "scale": {"domain": [58139, 59627], "nice": false, "zero": false}, "axis": null},
    "y": {"field": "m", "type": "quantitative", "scale": {"domain": [18.78, 21.19], "reverse": true, "nice": false, "zero": false}, "axis": null},
    "color": {"datum": "Sine", "type": "nominal", "scale": {"domain": ["1 σd", "Weighted g", "g-band", "Sine"], "range": ["#fdf1b3", "#a8a8a8", "black", "orange"]}}}},
  {"data": {"name": "g"},
   "mark": {"type": "point", "opacity": 0},
   "encoding": {
    "x": {"field": "t", "type": "quantitative", "scale": {"domain": [58139, 59627], "nice": false, "zero": false}, "axis": {"orient": "top", "values": [58200, 58565, 58931, 59296], "labelExpr": "datum.value == 58200 ? '2018.03.23' : datum.value == 58565 ? '2019.03.23' : datum.value == 58931 ? '2020.03.23' : '2021.03.23'", "labelFontSize": 14, "labelPadding": 8, "title": null}},
    "y": {"field": "m", "type": "quantitative", "scale": {"domain": [18.78, 21.19], "reverse": true, "nice": false, "zero": false}, "axis": {"orient": "right", "values": [19, 20, 21], "labels": false, "title": null}}}},
  {"data": {"values": [{"t": 58528, "m": 19.38, "t2": 58558, "m2": 19.09}]},
   "mark": {"type": "rule", "color": "red", "strokeWidth": 1.5},
   "encoding": {"x": {"field": "t", "type": "quantitative", "axis": null}, "y": {"field": "m", "type": "quantitative", "axis": null}, "x2": {"field": "t2"}, "y2": {"field": "m2"}}},
  {"data": {"values": [{"t": 58556, "m": 19.11}]},
   "mark": {"type": "point", "shape": "triangle-up", "angle": 43, "filled": true, "color": "red", "size": 45, "opacity": 1},
   "encoding": {"x": {"field": "t", "type": "quantitative", "axis": null}, "y": {"field": "m", "type": "quantitative", "axis": null}}},
  {"data": {"values": [{"t": 59301, "m": 21.14, "t2": 59271, "m2": 20.89}]},
   "mark": {"type": "rule", "color": "green", "strokeWidth": 1.5},
   "encoding": {"x": {"field": "t", "type": "quantitative", "axis": null}, "y": {"field": "m", "type": "quantitative", "axis": null}, "x2": {"field": "t2"}, "y2": {"field": "m2"}}},
  {"data": {"values": [{"t": 59273, "m": 20.91}]},
   "mark": {"type": "point", "shape": "triangle-up", "angle": 313, "filled": true, "color": "green", "size": 45, "opacity": 1},
   "encoding": {"x": {"field": "t", "type": "quantitative", "axis": null}, "y": {"field": "m", "type": "quantitative", "axis": null}}},
  {"data": {"values": [{"t": 59452, "m": 21.0}]},
   "mark": {"type": "point", "shape": "M0,-1L0.2245,-0.309L0.951,-0.309L0.363,0.118L0.588,0.809L0,0.382L-0.588,0.809L-0.363,0.118L-0.951,-0.309L-0.2245,-0.309Z", "filled": false, "color": "#f4a0a0", "strokeWidth": 1.2, "size": 220, "opacity": 1},
   "encoding": {"x": {"field": "t", "type": "quantitative", "axis": null}, "y": {"field": "m", "type": "quantitative", "axis": null}}},
  {"data": {"values": [{}]},
   "mark": {"type": "text", "text": "A", "color": "red", "fontSize": 17, "align": "left", "baseline": "top"},
   "encoding": {"x": {"datum": 58149, "type": "quantitative", "axis": null}, "y": {"datum": 18.846, "type": "quantitative", "axis": null}}}
 ]
},
{
 "width": 805, "height": 141,
 "resolve": {"axis": {"x": "independent", "y": "independent"}},
 "layer": [
  {"data": {"values": [{"a": 58186.5, "b": 59560, "lo": 19.16, "hi": 19.91}]},
   "mark": {"type": "rect"},
   "encoding": {
    "x": {"field": "a", "type": "quantitative", "scale": {"domain": [58139, 59627], "nice": false, "zero": false}, "axis": null},
    "x2": {"field": "b"},
    "y": {"field": "lo", "type": "quantitative", "scale": {"domain": [18.30, 20.49], "reverse": true, "nice": false, "zero": false}, "axis": null},
    "y2": {"field": "hi"},
    "color": {"datum": "1 σd", "type": "nominal", "scale": {"domain": ["1 σd", "Weighted r", "r-band", "Sine"], "range": ["#fdf1b3", "#b8b090", "black", "blue"]}}}},
  {"data": {"values": [{"a": 58186.5, "b": 59560, "m": 19.53}]},
   "mark": {"type": "rule", "strokeDash": [8, 3, 2, 3], "strokeWidth": 2},
   "encoding": {
    "x": {"field": "a", "type": "quantitative", "scale": {"domain": [58139, 59627], "nice": false, "zero": false}, "axis": null},
    "x2": {"field": "b"},
    "y": {"field": "m", "type": "quantitative", "scale": {"domain": [18.30, 20.49], "reverse": true, "nice": false, "zero": false}, "axis": null},
    "color": {"datum": "Weighted r", "type": "nominal", "scale": {"domain": ["1 σd", "Weighted r", "r-band", "Sine"], "range": ["#fdf1b3", "#b8b090", "black", "blue"]}}}},
  {"data": {"name": "r"},
   "mark": {"type": "errorbar", "color": "black", "thickness": 2, "clip": true},
   "encoding": {
    "x": {"field": "t", "type": "quantitative", "scale": {"domain": [58139, 59627], "nice": false, "zero": false}, "axis": null},
    "y": {"field": "m", "type": "quantitative", "scale": {"domain": [18.30, 20.49], "reverse": true, "nice": false, "zero": false}, "axis": null},
    "yError": {"field": "e"}}},
  {"data": {"name": "r"},
   "mark": {"type": "point", "shape": "diamond", "filled": true, "size": 26, "opacity": 1, "clip": true},
   "encoding": {
    "x": {"field": "t", "type": "quantitative", "scale": {"domain": [58139, 59627], "nice": false, "zero": false}, "axis": {"orient": "bottom", "values": [58200, 58475, 58750, 59025, 59300, 59575], "labels": false, "title": null}},
    "y": {"field": "m", "type": "quantitative", "scale": {"domain": [18.30, 20.49], "reverse": true, "nice": false, "zero": false}, "axis": {"orient": "left", "values": [19, 20], "labelFontSize": 12, "labelPadding": 8, "title": "r mag", "titleFontSize": 26, "titlePadding": 3}},
    "color": {"datum": "r-band", "type": "nominal", "scale": {"domain": ["1 σd", "Weighted r", "r-band", "Sine"], "range": ["#fdf1b3", "#b8b090", "black", "blue"]},
     "legend": {"orient": "top-right", "title": null, "offset": 4, "padding": 5, "rowPadding": 2, "symbolSize": 144, "labelFontSize": 10, "labelColor": "blue", "labelOffset": 12, "strokeColor": "blue", "cornerRadius": 4, "fillColor": "white", "symbolOpacity": 1,
      "encode": {"legend": {"update": {"strokeWidth": {"value": 1.5}}},
       "symbols": {"update": {
        "shape": {"signal": "datum.value === '1 σd' ? 'M-1,-0.55H2.3V0.55H-1Z' : datum.value === 'r-band' ? 'M0.65,-1V1M0.2,0L0.65,-0.5L1.1,0L0.65,0.5Z' : 'M-1,0H2.3'"},
        "fill": {"signal": "datum.value === '1 σd' ? '#fdf1b3' : datum.value === 'r-band' ? 'black' : 'transparent'"},
        "stroke": {"signal": "datum.value === 'Weighted r' ? '#c8c8c8' : datum.value === 'r-band' ? 'black' : datum.value === 'Sine' ? 'blue' : 'transparent'"},
        "strokeWidth": {"signal": "datum.value === 'Sine' ? 3 : datum.value === 'r-band' ? 1.5 : 2"},
        "strokeDash": {"value": [1, 0]},
        "size": {"value": 144}, "opacity": {"value": 1}}}}}}}},
  {"data": {"name": "rs"},
   "mark": {"type": "line", "strokeDash": [10, 4, 2, 4], "strokeWidth": 3, "interpolate": "monotone"},
   "encoding": {
    "x": {"field": "t", "type": "quantitative", "scale": {"domain": [58139, 59627], "nice": false, "zero": false}, "axis": null},
    "y": {"field": "m", "type": "quantitative", "scale": {"domain": [18.30, 20.49], "reverse": true, "nice": false, "zero": false}, "axis": null},
    "color": {"datum": "Sine", "type": "nominal", "scale": {"domain": ["1 σd", "Weighted r", "r-band", "Sine"], "range": ["#fdf1b3", "#b8b090", "black", "blue"]}}}},
  {"data": {"name": "r"},
   "mark": {"type": "point", "opacity": 0},
   "encoding": {
    "x": {"field": "t", "type": "quantitative", "scale": {"domain": [58139, 59627], "nice": false, "zero": false}, "axis": {"orient": "top", "values": [58200, 58475, 58750, 59025, 59300, 59575], "labels": false, "title": null}},
    "y": {"field": "m", "type": "quantitative", "scale": {"domain": [18.30, 20.49], "reverse": true, "nice": false, "zero": false}, "axis": {"orient": "right", "values": [19, 20], "labels": false, "title": null}}}},
  {"data": {"values": [{"t": 58273, "m": 18.74, "t2": 58303, "m2": 18.49}]},
   "mark": {"type": "rule", "color": "red", "strokeWidth": 1.5},
   "encoding": {"x": {"field": "t", "type": "quantitative", "axis": null}, "y": {"field": "m", "type": "quantitative", "axis": null}, "x2": {"field": "t2"}, "y2": {"field": "m2"}}},
  {"data": {"values": [{"t": 58301, "m": 18.51}]},
   "mark": {"type": "point", "shape": "triangle-up", "angle": 45, "filled": true, "color": "red", "size": 45, "opacity": 1},
   "encoding": {"x": {"field": "t", "type": "quantitative", "axis": null}, "y": {"field": "m", "type": "quantitative", "axis": null}}},
  {"data": {"values": [{"t": 58257, "m": 20.52, "t2": 58233, "m2": 20.32}]},
   "mark": {"type": "rule", "color": "green", "strokeWidth": 1.5, "clip": false},
   "encoding": {"x": {"field": "t", "type": "quantitative", "axis": null}, "y": {"field": "m", "type": "quantitative", "axis": null}, "x2": {"field": "t2"}, "y2": {"field": "m2"}}},
  {"data": {"values": [{"t": 58235, "m": 20.34}]},
   "mark": {"type": "point", "shape": "triangle-up", "angle": 315, "filled": true, "color": "green", "size": 45, "opacity": 1},
   "encoding": {"x": {"field": "t", "type": "quantitative", "axis": null}, "y": {"field": "m", "type": "quantitative", "axis": null}}},
  {"data": {"values": [{"t": 59452, "m": 20.32}]},
   "mark": {"type": "point", "shape": "M0,-1L0.2245,-0.309L0.951,-0.309L0.363,0.118L0.588,0.809L0,0.382L-0.588,0.809L-0.363,0.118L-0.951,-0.309L-0.2245,-0.309Z", "filled": false, "color": "#f4a0a0", "strokeWidth": 1.2, "size": 220, "opacity": 1},
   "encoding": {"x": {"field": "t", "type": "quantitative", "axis": null}, "y": {"field": "m", "type": "quantitative", "axis": null}}},
  {"data": {"values": [{}]},
   "mark": {"type": "text", "text": "B", "color": "red", "fontSize": 17, "align": "left", "baseline": "top"},
   "encoding": {"x": {"datum": 58152, "type": "quantitative", "axis": null}, "y": {"datum": 18.34, "type": "quantitative", "axis": null}}}
 ]
},
{
 "width": 805, "height": 141,
 "resolve": {"axis": {"x": "independent", "y": "independent"}},
 "layer": [
  {"data": {"name": "i"},
   "mark": {"type": "errorbar", "color": "black", "thickness": 2, "clip": true},
   "encoding": {
    "x": {"field": "t", "type": "quantitative", "scale": {"domain": [58139, 59627], "nice": false, "zero": false}, "axis": null},
    "y": {"field": "m", "type": "quantitative", "scale": {"domain": [18.20, 20.30], "reverse": true, "nice": false, "zero": false}, "axis": null},
    "yError": {"field": "e"}}},
  {"data": {"name": "i"},
   "mark": {"type": "point", "shape": "diamond", "filled": true, "size": 26, "opacity": 1, "clip": true},
   "encoding": {
    "x": {"field": "t", "type": "quantitative", "scale": {"domain": [58139, 59627], "nice": false, "zero": false}, "axis": {"orient": "bottom", "values": [58200, 58475, 58750, 59025, 59300, 59575], "labels": false, "title": null}},
    "y": {"field": "m", "type": "quantitative", "scale": {"domain": [18.20, 20.30], "reverse": true, "nice": false, "zero": false}, "axis": {"orient": "left", "values": [19, 20], "labelFontSize": 12, "labelPadding": 8, "title": "i mag", "titleFontSize": 26, "titlePadding": 3}},
    "color": {"datum": "i-band", "type": "nominal", "scale": {"domain": ["i-band"], "range": ["black"]},
     "legend": {"orient": "top-right", "title": null, "offset": 4, "padding": 5, "symbolSize": 144, "symbolType": "M0.65,-1V1M0.2,0L0.65,-0.5L1.1,0L0.65,0.5Z", "labelFontSize": 12.5, "labelColor": "blue", "labelOffset": 22, "strokeColor": "blue", "cornerRadius": 4, "fillColor": "white", "symbolOpacity": 1,
      "encode": {"legend": {"update": {"strokeWidth": {"value": 1.5}}},
       "symbols": {"update": {
        "shape": {"value": "M0.65,-1V1M0.2,0L0.65,-0.5L1.1,0L0.65,0.5Z"},
        "fill": {"value": "black"}, "stroke": {"value": "black"}, "strokeWidth": {"value": 1.5}, "size": {"value": 144}, "opacity": {"value": 1}}}}}}}},
  {"data": {"name": "i"},
   "mark": {"type": "point", "opacity": 0},
   "encoding": {
    "x": {"field": "t", "type": "quantitative", "scale": {"domain": [58139, 59627], "nice": false, "zero": false}, "axis": {"orient": "top", "values": [58200, 58475, 58750, 59025, 59300, 59575], "labels": false, "title": null}},
    "y": {"field": "m", "type": "quantitative", "scale": {"domain": [18.20, 20.30], "reverse": true, "nice": false, "zero": false}, "axis": {"orient": "right", "values": [19, 20], "labels": false, "title": null}}}},
  {"data": {"values": [{}]},
   "mark": {"type": "text", "text": "C", "color": "red", "fontSize": 17, "align": "left", "baseline": "top"},
   "encoding": {"x": {"datum": 58151, "type": "quantitative", "axis": null}, "y": {"datum": 18.24, "type": "quantitative", "axis": null}}}
 ]
},
{
 "width": 805, "height": 141,
 "resolve": {"axis": {"x": "independent", "y": "independent"}},
 "layer": [
  {"data": {"name": "o"},
   "mark": {"type": "errorbar", "color": "#707070", "opacity": 0.6, "thickness": 2, "clip": true},
   "encoding": {
    "x": {"field": "t", "type": "quantitative", "scale": {"domain": [58139, 59627], "nice": false, "zero": false}, "axis": null},
    "y": {"field": "m", "type": "quantitative", "scale": {"domain": [16.13, 25.82], "reverse": true, "nice": false, "zero": false}, "axis": null},
    "yError": {"field": "e"}}},
  {"data": {"name": "o"},
   "mark": {"type": "circle", "size": 24, "opacity": 0.55, "clip": true},
   "encoding": {
    "x": {"field": "t", "type": "quantitative", "scale": {"domain": [58139, 59627], "nice": false, "zero": false}, "axis": {"orient": "bottom", "values": [58200, 58475, 58750, 59025, 59300, 59575], "labels": false, "title": null}},
    "y": {"field": "m", "type": "quantitative", "scale": {"domain": [16.13, 25.82], "reverse": true, "nice": false, "zero": false}, "axis": {"orient": "left", "values": [17, 21, 25], "labelFontSize": 12, "labelPadding": 8, "title": "o mag", "titleFontSize": 26, "titlePadding": 3}},
    "color": {"datum": "ATLAS o-band", "type": "nominal", "scale": {"domain": ["ATLAS o-band"], "range": ["black"]},
     "legend": {"orient": "top-right", "title": null, "offset": 4, "padding": 5, "symbolSize": 144, "symbolType": "M0.65,-1V1M0.3,0L0.65,-0.35L1.0,0L0.65,0.35Z", "labelFontSize": 12.5, "labelColor": "blue", "labelOffset": 14, "strokeColor": "blue", "cornerRadius": 4, "fillColor": "white", "symbolOpacity": 1,
      "encode": {"legend": {"update": {"strokeWidth": {"value": 1.5}}},
       "symbols": {"update": {
        "shape": {"value": "M0.65,-1V1M0.3,0L0.65,-0.35L1.0,0L0.65,0.35Z"},
        "fill": {"value": "#888888"}, "stroke": {"value": "#999999"}, "strokeWidth": {"value": 1.5}, "size": {"value": 144}, "opacity": {"value": 1}}}}}}}},
  {"data": {"name": "o"},
   "mark": {"type": "point", "opacity": 0},
   "encoding": {
    "x": {"field": "t", "type": "quantitative", "scale": {"domain": [58139, 59627], "nice": false, "zero": false}, "axis": {"orient": "top", "values": [58200, 58475, 58750, 59025, 59300, 59575], "labels": false, "title": null}},
    "y": {"field": "m", "type": "quantitative", "scale": {"domain": [16.13, 25.82], "reverse": true, "nice": false, "zero": false}, "axis": {"orient": "right", "values": [17, 21, 25], "labels": false, "title": null}}}},
  {"data": {"values": [{}]},
   "mark": {"type": "text", "text": "D", "color": "red", "fontSize": 17, "align": "left", "baseline": "top"},
   "encoding": {"x": {"datum": 58152, "type": "quantitative", "axis": null}, "y": {"datum": 16.25, "type": "quantitative", "axis": null}}}
 ]
},
{
 "width": 805, "height": 141,
 "resolve": {"axis": {"x": "independent", "y": "independent"}},
 "layer": [
  {"data": {"name": "f"},
   "mark": {"type": "errorbar", "color": "black", "thickness": 2, "clip": true},
   "encoding": {
    "x": {"field": "t", "type": "quantitative", "scale": {"domain": [58139, 59627], "nice": false, "zero": false}, "axis": null},
    "y": {"field": "f", "type": "quantitative", "scale": {"domain": [0.14, 8.85], "nice": false, "zero": false}, "axis": null},
    "yError": {"field": "fe"}}},
  {"data": {"name": "f"},
   "mark": {"type": "errorbar", "color": "black", "thickness": 2, "clip": true},
   "encoding": {
    "y": {"field": "f", "type": "quantitative", "scale": {"domain": [0.14, 8.85], "nice": false, "zero": false}, "axis": null},
    "x": {"field": "t", "type": "quantitative", "scale": {"domain": [58139, 59627], "nice": false, "zero": false}, "axis": null},
    "xError": {"field": "te"}}},
  {"data": {"name": "f"},
   "mark": {"type": "point", "shape": "cross", "opacity": 0},
   "encoding": {
    "x": {"field": "t", "type": "quantitative", "scale": {"domain": [58139, 59627], "nice": false, "zero": false}, "axis": {"orient": "bottom", "values": [58200, 58475, 58750, 59025, 59300, 59575], "labelFontSize": 13.5, "labelPadding": 6, "title": "Time (MJD)", "titleFontSize": 18, "titleBaseline": "top", "titleY": 13}},
    "y": {"field": "f", "type": "quantitative", "scale": {"domain": [0.14, 8.85], "nice": false, "zero": false}, "axis": {"orient": "left", "values": [1, 4, 7], "labelFontSize": 12, "labelPadding": 8, "title": "Fᵧ(×10⁻⁸ cm⁻² s⁻¹)", "titleFontSize": 16.5, "titlePadding": 3}},
    "color": {"datum": "Fermi-LAT, TS ⩾ 4", "type": "nominal", "scale": {"domain": ["Fermi-LAT, TS ⩾ 4"], "range": ["black"]},
     "legend": {"orient": "top-right", "title": null, "offset": 4, "padding": 5, "symbolSize": 144, "symbolType": "M-0.2,0H1.5M0.65,-0.85V0.85", "symbolStrokeColor": "black", "symbolStrokeWidth": 2, "symbolFillColor": "transparent", "labelFontSize": 12.5, "labelColor": "blue", "labelOffset": 14, "strokeColor": "blue", "cornerRadius": 4, "fillColor": "white", "symbolOpacity": 1,
      "encode": {"legend": {"update": {"strokeWidth": {"value": 1.5}}},
       "symbols": {"update": {
        "shape": {"value": "M-0.2,0H1.5M0.65,-0.85V0.85"},
        "fill": {"value": "transparent"}, "stroke": {"value": "black"}, "strokeWidth": {"value": 2}, "size": {"value": 144}, "opacity": {"value": 1}}}}}}}},
  {"data": {"name": "f"},
   "mark": {"type": "point", "opacity": 0},
   "encoding": {
    "x": {"field": "t", "type": "quantitative", "scale": {"domain": [58139, 59627], "nice": false, "zero": false}, "axis": {"orient": "top", "values": [58200, 58475, 58750, 59025, 59300, 59575], "labels": false, "title": null}},
    "y": {"field": "f", "type": "quantitative", "scale": {"domain": [0.14, 8.85], "nice": false, "zero": false}, "axis": {"orient": "right", "values": [1, 4, 7], "labels": false, "title": null}}}},
  {"data": {"values": [{}]},
   "mark": {"type": "text", "text": "E", "color": "red", "fontSize": 17, "align": "left", "baseline": "top"},
   "encoding": {"x": {"datum": 58151, "type": "quantitative", "axis": null}, "y": {"datum": 8.65, "type": "quantitative", "axis": null}}}
 ]
}
]
}
